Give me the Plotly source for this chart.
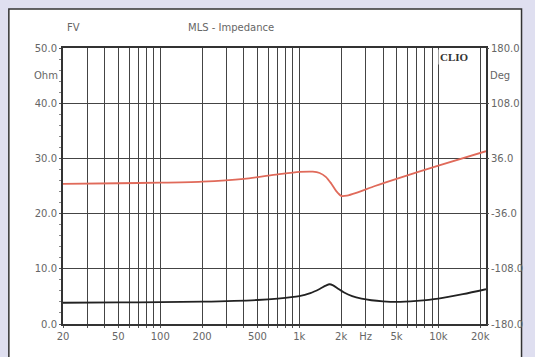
import plotly.graph_objects as go
import numpy as np

# Impedance magnitude (Ohm)
imp_freq = [20, 50, 100, 200, 500, 700, 1000, 1200, 1400, 1550, 1650, 1750, 1900, 2100, 2400, 2800, 3300, 4000, 5000, 7000, 10000, 15000, 22000]
imp_ohm = [3.85, 3.9, 3.95, 4.05, 4.35, 4.6, 5.05, 5.6, 6.35, 6.95, 7.2, 7.0, 6.4, 5.7, 5.05, 4.6, 4.3, 4.1, 4.0, 4.2, 4.6, 5.4, 6.3]

# Phase (deg)
ph_freq = [20, 50, 100, 200, 400, 700, 1000, 1250, 1400, 1550, 1700, 1850, 2000, 2200, 2600, 3500, 5000, 10000, 22000]
ph_deg = [2.9, 3.6, 4.3, 5.8, 9.4, 15.1, 18.3, 18.7, 17.0, 12.0, 3.0, -7.0, -12.8, -12.5, -8.6, 0.0, 9.4, 26.6, 45.4]

grid_freqs = [20, 30, 40, 50, 60, 70, 80, 90, 100, 200, 300, 400, 500, 600, 700, 800, 900,
              1000, 2000, 3000, 4000, 5000, 6000, 7000, 8000, 9000, 10000, 20000]
label_map = {20: "20", 50: "50", 100: "100", 200: "200", 500: "500", 1000: "1k",
             2000: "2k", 3000: "Hz", 5000: "5k", 10000: "10k", 20000: "20k"}
x_ticktext = [label_map.get(f, "") for f in grid_freqs]

left_ticks = [0, 10, 20, 30, 40, 50]
right_ticks = [-180, -108, -36, 36, 108, 180]

FONT = "DejaVu Sans, Liberation Sans, sans-serif"
TICKC = "#666666"
FS = 10

fig = go.Figure()
fig.add_trace(go.Scatter(x=imp_freq, y=imp_ohm, mode="lines", line=dict(color="#222222", width=1.8, shape="spline", smoothing=0.8), showlegend=False))
fig.add_trace(go.Scatter(x=ph_freq, y=ph_deg, mode="lines", yaxis="y2", line=dict(color="#e06a5a", width=1.8, shape="spline", smoothing=0.8), showlegend=False))

fig.update_layout(
    width=535, height=357,
    margin=dict(l=63, r=43, t=48, b=33),
    paper_bgcolor="#dfdff0",
    plot_bgcolor="white",
    font=dict(family=FONT, size=FS, color=TICKC),
    xaxis=dict(type="log", range=[np.log10(20), np.log10(22000)],
               tickvals=grid_freqs, ticktext=x_ticktext,
               showgrid=True, gridcolor="#444444", gridwidth=1,
               showline=True, linecolor="#333333", linewidth=2, mirror=True,
               ticks="outside", ticklen=2, tickcolor="#555555",
               tickfont=dict(size=FS, color=TICKC), zeroline=False),
    yaxis=dict(range=[0, 50], tickvals=left_ticks, ticktext=[f"{v:.1f}" for v in left_ticks],
               showgrid=True, gridcolor="#444444", gridwidth=1,
               showline=True, linecolor="#333333", linewidth=2, mirror=True,
               ticks="outside", ticklen=2, tickcolor="#555555",
               minor=dict(dtick=2, ticks="outside", ticklen=2, tickcolor="#888888", showgrid=False),
               tickfont=dict(size=FS, color=TICKC), zeroline=False),
    yaxis2=dict(range=[-180, 180], overlaying="y", side="right",
                tickvals=right_ticks, ticktext=[f"{v:.1f}" for v in right_ticks],
                showgrid=False, zeroline=False, showline=False,
                ticks="outside", ticklen=2, tickcolor="#555555",
                tickfont=dict(size=FS, color=TICKC)),
)

# White panel behind the chart
fig.add_shape(type="rect", xref="paper", yref="paper", x0=-0.128, x1=1.084, y0=-0.14, y1=1.141,
              fillcolor="white", line=dict(color="#333333", width=1.5), layer="below")

def ann(text, px, py, **kw):
    fig.add_annotation(text=text, xref="paper", yref="paper", x=(px - 63) / 429, y=(324 - py) / 276,
                       xanchor="center", yanchor="middle", showarrow=False, **kw)

ann("FV", 74, 27, font=dict(size=FS, color=TICKC))
ann("MLS - Impedance", 233, 27, font=dict(size=FS, color=TICKC))
ann("Ohm", 46, 75, font=dict(size=FS, color=TICKC))
ann("Deg", 506, 75, font=dict(size=FS, color=TICKC))
ann("<b>CLIO</b>", 460, 57, bgcolor="white", font=dict(size=11, color="#333333", family="Liberation Serif, serif"))

fig.write_html("out.html", config={"displayModeBar": False},
               post_script="document.body.style.margin='0';")
